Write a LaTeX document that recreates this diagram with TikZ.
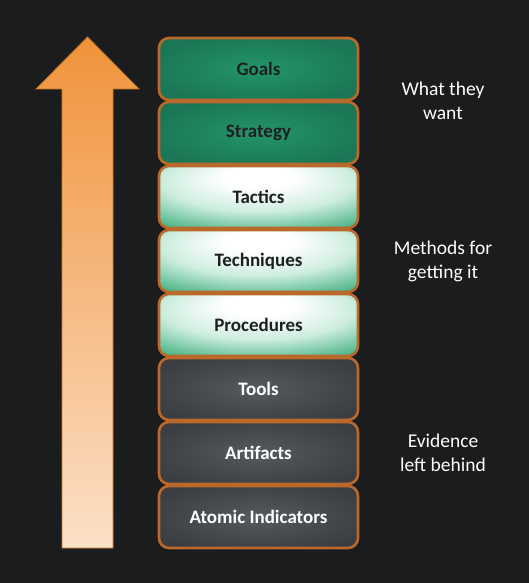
\documentclass[tikz,border=0pt]{standalone}
\usepackage{fontspec}
\setmainfont{Carlito}
\usetikzlibrary{positioning}

\definecolor{bg}{HTML}{1B1C1E}
\definecolor{rim}{HTML}{B8692B}
\definecolor{gdarkin}{HTML}{239569}
\definecolor{gdarkout}{HTML}{1B7655}
\definecolor{glightmid}{HTML}{CDEDDF}
\definecolor{glightout}{HTML}{36AB79}
\definecolor{greyin}{HTML}{545A5D}
\definecolor{greyout}{HTML}{3A3D41}
\definecolor{arrtop}{HTML}{F0933A}
\definecolor{arrbot}{HTML}{FCE0C8}
\definecolor{arredge}{HTML}{C97629}
\definecolor{inktext}{HTML}{1E1F21}

% layer fills
\pgfdeclareradialshading{strategicfill}{\pgfpoint{0bp}{0bp}}{%
  color(0bp)=(gdarkin); color(28bp)=(gdarkout); color(50bp)=(gdarkout)}
\pgfdeclareradialshading{ttpfill}{\pgfpoint{0bp}{18bp}}{%
  color(0bp)=(white); color(9bp)=(white); color(24bp)=(glightmid);
  color(42bp)=(glightout); color(75bp)=(glightout)}
\pgfdeclareradialshading{evidencefill}{\pgfpoint{0bp}{0bp}}{%
  color(0bp)=(greyin); color(30bp)=(greyout); color(50bp)=(greyout)}

\tikzset{
  layer/.style={draw=rim, line width=2.6pt, rounded corners=10pt,
    minimum width=199pt, minimum height=62pt, inner sep=0pt,
    font=\bfseries\fontsize{19}{21}\selectfont},
  stratlayer/.style={layer, shade, shading=strategicfill, text=inktext},
  ttplayer/.style={layer, shade, shading=ttpfill, text=inktext},
  evlayer/.style={layer, shade, shading=evidencefill, text=white},
  sidenote/.style={text=white, align=center, font=\fontsize{19.5}{24}\selectfont}
}

\begin{document}
\begin{tikzpicture}[x=1pt, y=-1pt]
  \fill[bg] (0,0) rectangle (529,583);
  \useasboundingbox (0,0) rectangle (529,583);

  % rising arrow on the left
  \shade[top color=arrtop, bottom color=arrbot, draw=arredge, line width=0.8pt]
    (87.5,37) -- (139,89) -- (113,89) -- (113,548) -- (62,548) -- (62,89)
    -- (36,89) -- cycle;

  % the stack of layers
  \node[stratlayer] (goals)    at (258.5,69)  {Goals};
  \node[stratlayer] (strategy) at (258.5,133) {Strategy};
  \node[ttplayer]   (tactics)  at (258.5,197) {Tactics};
  \node[ttplayer]   (techniques) at (258.5,261) {Techniques};
  \node[ttplayer]   (procedures) at (258.5,325) {Procedures};
  \node[evlayer]    (tools)    at (258.5,389) {Tools};
  \node[evlayer]    (artifacts) at (258.5,453) {Artifacts};
  \node[evlayer]    (atomic)   at (258.5,517) {Atomic Indicators};

  % notes on the right
  \node[sidenote] (want)     at (443,101) {What they\\want};
  \node[sidenote] (methods)  at (443,261) {Methods for\\getting it};
  \node[sidenote] (evidence) at (443,453) {Evidence\\left behind};
\end{tikzpicture}
\end{document}
